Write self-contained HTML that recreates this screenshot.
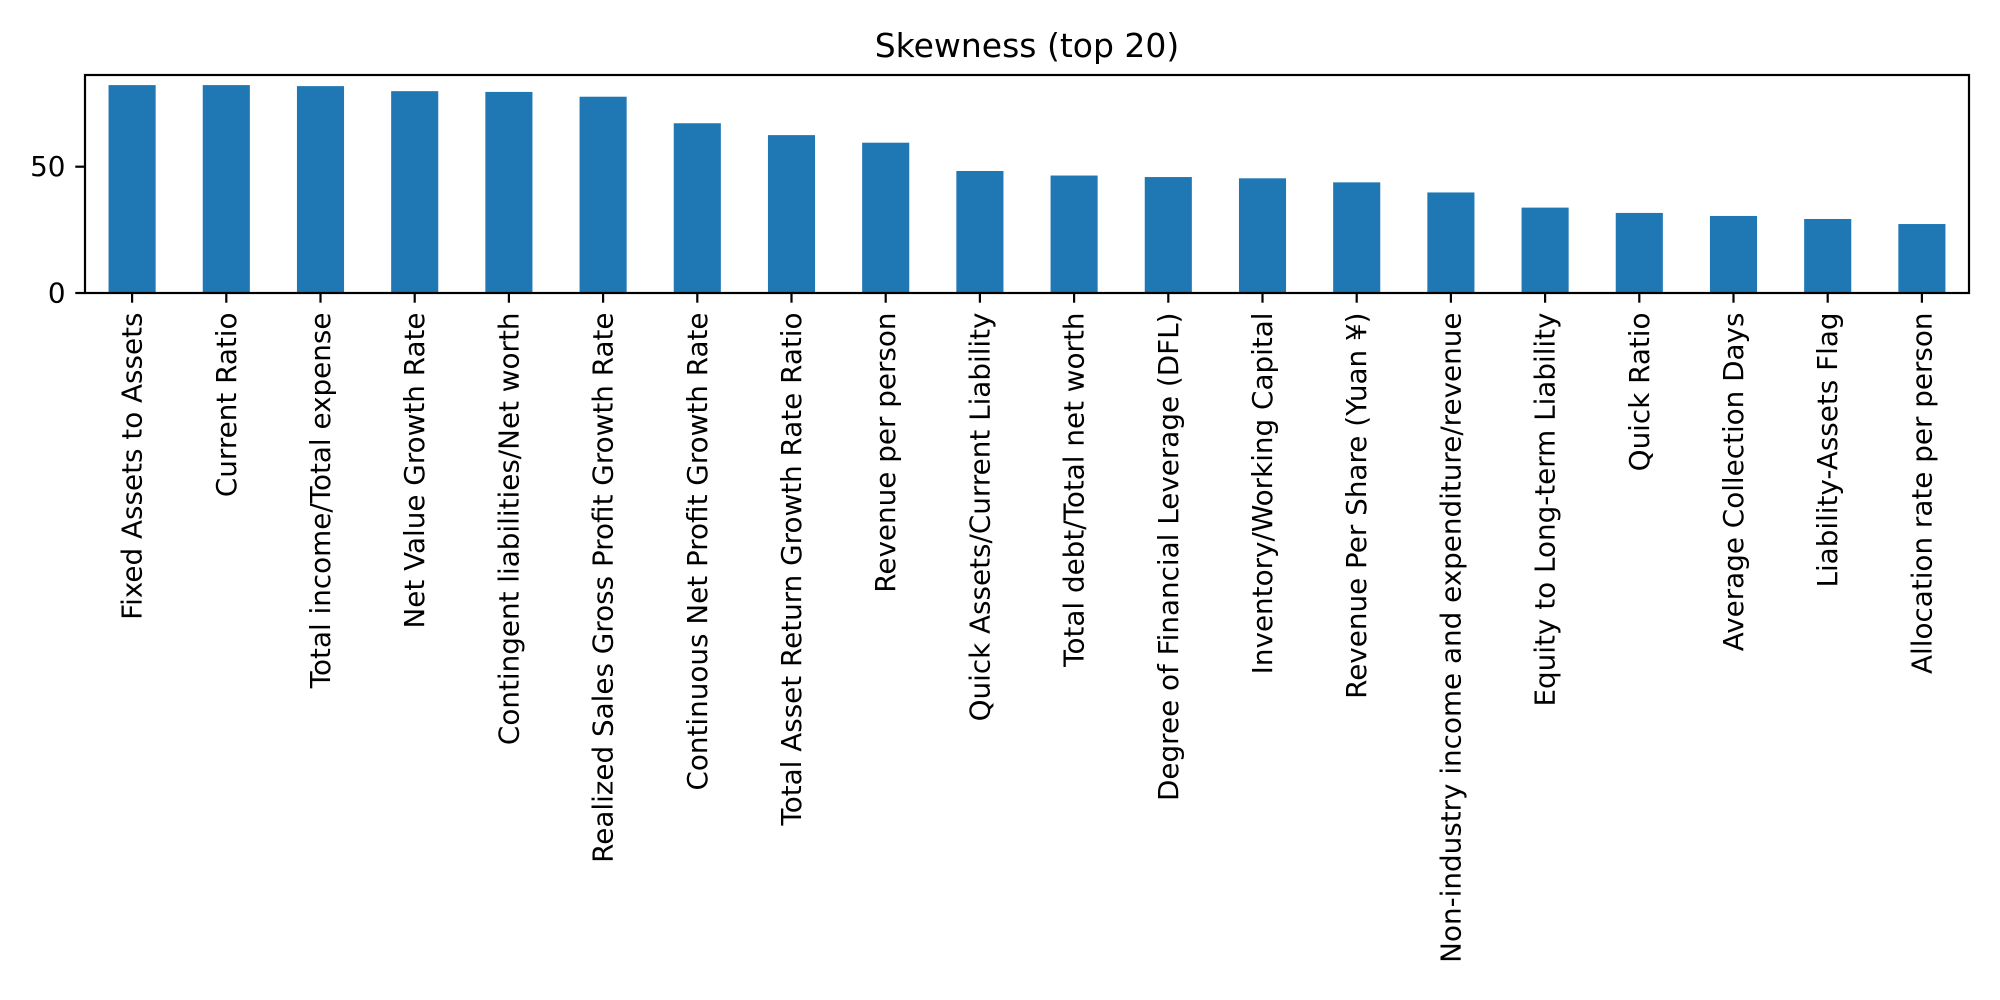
<!DOCTYPE html>
<html><head><meta charset="utf-8"><style>body{margin:0;background:#fff}svg{display:block}</style></head>
<body>
<svg id="chart" width="2000" height="1000" xmlns="http://www.w3.org/2000/svg" font-family="DejaVu Sans, Liberation Sans, sans-serif">
<rect width="2000" height="1000" fill="#fff"/>
<text x="1027" y="57" font-size="33" text-anchor="middle">Skewness (top 20)</text>
<g id="bars"></g><g id="xticks"></g><g id="yticks"></g>
<rect x="85" y="75" width="1884" height="218" fill="none" stroke="#000" stroke-width="2.2"/>
</svg>
<script>
const categories = ["Fixed Assets to Assets","Current Ratio","Total income/Total expense","Net Value Growth Rate","Contingent liabilities/Net worth","Realized Sales Gross Profit Growth Rate","Continuous Net Profit Growth Rate","Total Asset Return Growth Rate Ratio","Revenue per person","Quick Assets/Current Liability","Total debt/Total net worth","Degree of Financial Leverage (DFL)","Inventory/Working Capital","Revenue Per Share (Yuan ¥)","Non-industry income and expenditure/revenue","Equity to Long-term Liability","Quick Ratio","Average Collection Days","Liability-Assets Flag","Allocation rate per person"];
const values = [82.3,82.3,81.9,79.9,79.6,77.7,67.2,62.5,59.5,48.3,46.5,45.9,45.4,43.8,39.8,33.8,31.7,30.5,29.3,27.3];
const yTickValues = [0,50];
const yTickLabels = ["0","50"];
const NS="http://www.w3.org/2000/svg";
const L=85,R=1969,T=75,B=293,yMax=86.3;
const n=categories.length, step=(R-L)/n;
const xPos=i=>L+step*(i+0.5);
const yPos=v=>B-(v/yMax)*(B-T);
function mk(tag,attrs,parent){const e=document.createElementNS(NS,tag);for(const k in attrs)e.setAttribute(k,attrs[k]);parent.appendChild(e);return e;}
const gb=document.getElementById('bars'),gx=document.getElementById('xticks'),gy=document.getElementById('yticks');
values.forEach((v,i)=>{
  const r=mk('rect',{x:xPos(i)-step*0.25,y:yPos(v),width:step*0.5,height:B-yPos(v),fill:'#1f77b4'},gb);
  
  
});
categories.forEach((c,i)=>{
  const x=xPos(i);
  const t=mk('line',{x1:x,x2:x,y1:B,y2:B+9.7,stroke:'#000','stroke-width':2.2},gx);
  
  
  const tx=mk('text',{x:0,y:0,'font-size':27.8,'text-anchor':'end','dominant-baseline':'central',transform:`translate(${x},${B+19.5}) rotate(-90)`},gx);
  tx.textContent=c;
  
  
});
yTickValues.forEach((v,i)=>{
  const y=yPos(v);
  const t=mk('line',{x1:L-9.7,x2:L,y1:y,y2:y,stroke:'#000','stroke-width':2.2},gy);
  
  
  const tx=mk('text',{x:L-19.5,y:y,'font-size':27.8,'text-anchor':'end','dominant-baseline':'central'},gy);
  tx.textContent=yTickLabels[i];
  
  
});
</script>
</body></html>
